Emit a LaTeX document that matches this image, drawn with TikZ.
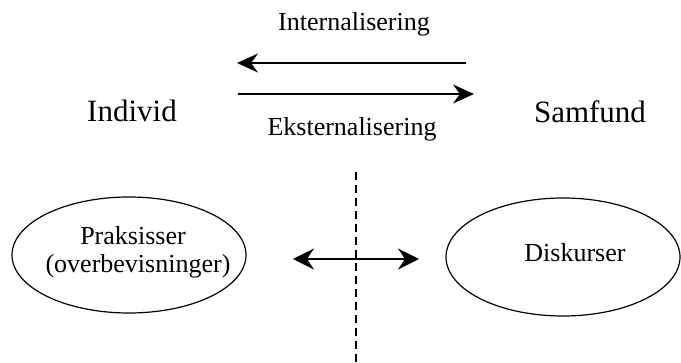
\documentclass[tikz,border=0pt]{standalone}
\usepackage{fontspec}
\setmainfont{Liberation Serif}
\usetikzlibrary{arrows.meta,shapes.geometric}
\begin{document}
\begin{tikzpicture}[x=1pt,y=-1pt,
  small/.style={font=\fontsize{26}{29}\selectfont},
  large/.style={font=\fontsize{31}{34}\selectfont},
  lbl/.style={anchor=base,inner sep=0pt},
  oval/.style={draw,line width=1.2pt,ellipse,inner sep=0pt},
  flow/.style={line width=1.4pt,-{Stealth[length=21pt,width=19pt,inset=7pt]}},
  both/.style={line width=1.5pt,{Stealth[length=21pt,width=21pt,inset=7pt]}-{Stealth[length=21pt,width=21pt,inset=7pt]}},
  divider/.style={line width=1.3pt,dash pattern=on 8pt off 5pt}]
\useasboundingbox (0,0) rectangle (681,363);

% labels
\node[lbl,small] (int) at (354,31) {Internalisering};
\node[lbl,small] (eks) at (352,136) {Eksternalisering};
\node[lbl,large] (ind) at (132,122) {Individ};
\node[lbl,large] (sam) at (590,123) {Samfund};

% top arrows
\coordinate (a1s) at (466,63);
\coordinate (a1e) at (237,63);
\coordinate (a2s) at (238,94);
\coordinate (a2e) at (474,94);
\draw[flow] (a1s) -- (a1e);
\draw[flow] (a2s) -- (a2e);

% ellipses
\node[oval,minimum width=234pt,minimum height=116pt] (prak) at (129,255) {};
\node[oval,minimum width=234pt,minimum height=118pt] (disk) at (563,257) {};
\node[lbl,small] (p1) at (133,245) {Praksisser};
\node[lbl,small] (p2) at (138,273) {(overbevisninger)};
\node[lbl,small] (d1) at (575,262) {Diskurser};

% divider and exchange arrow
\coordinate (dtop) at (356,172);
\coordinate (dbot) at (356,363);
\draw[divider] (dtop) -- (dbot);
\coordinate (bl) at (293,259);
\coordinate (br) at (419,259);
\draw[both] (bl) -- (br);
\end{tikzpicture}
\end{document}
